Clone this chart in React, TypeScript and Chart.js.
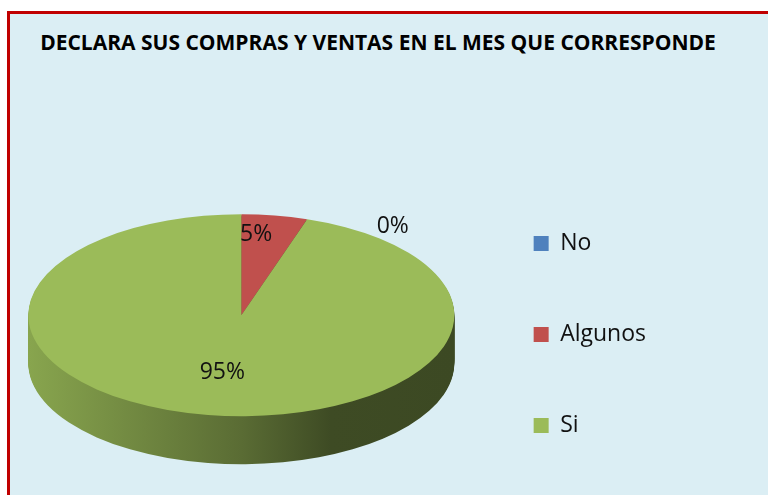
import React, { useEffect, useRef } from "react";
import { Chart, registerables } from "chart.js";

Chart.register(...registerables);

// ---- data ----
const TITLE = "DECLARA SUS COMPRAS Y VENTAS EN EL MES QUE CORRESPONDE";
const categories = ["No", "Algunos", "Si"];
const values = [0, 5, 95];

// ---- style ----
const sliceColors = ["#4F81BD", "#C0504D", "#9BBB59"];
const labelRadius = [1.13, 0.8, 0.57];
const labelAngleShift = [39, -4, 0]; // degrees
const PIE_RADIUS = 213;
const TILT = 101 / 213;
const DEPTH = 48;
const FONT = "'Open Sans', 'DejaVu Sans', sans-serif";

function shade(hex: string, f: number): string {
  const n = parseInt(hex.slice(1), 16);
  const r = Math.round(((n >> 16) & 255) * f);
  const g = Math.round(((n >> 8) & 255) * f);
  const b = Math.round((n & 255) * f);
  return `rgb(${r},${g},${b})`;
}

const pie3d = {
  id: "pie3d",
  beforeDatasetsDraw(chart: any) {
    const ctx = chart.ctx as CanvasRenderingContext2D;
    const arcs = chart.getDatasetMeta(0).data as any[];
    ctx.save();
    if (!arcs.length) return;
    const { x: cx, y: cy, outerRadius: r } = arcs[0].getProps(["x", "y", "outerRadius"], true);
    const grads = arcs.map((_a, i) => {
      const base = sliceColors[i];
      const g = ctx.createLinearGradient(cx - r, 0, cx + r, 0);
      g.addColorStop(0, shade(base, 0.88));
      g.addColorStop(0.5, shade(base, 0.58));
      g.addColorStop(0.71, shade(base, 0.4));
      g.addColorStop(1, shade(base, 0.39));
      return g;
    });
    for (let dy = DEPTH; dy >= 1; dy -= 1) {
      arcs.forEach((arc, i) => {
        const saved = arc.options;
        arc.options = Object.assign({}, saved, { backgroundColor: grads[i], borderWidth: 0 });
        ctx.save();
        ctx.translate(0, dy);
        ctx.translate(cx, cy);
        ctx.scale(1, TILT);
        ctx.translate(-cx, -cy);
        arc.draw(ctx);
        ctx.restore();
        arc.options = saved;
      });
    }
    ctx.translate(cx, cy);
    ctx.scale(1, TILT);
    ctx.translate(-cx, -cy);
  },
  afterDatasetsDraw(chart: any) {
    const ctx = chart.ctx as CanvasRenderingContext2D;
    ctx.restore();
    const arcs = chart.getDatasetMeta(0).data as any[];
    const data = chart.data.datasets[0].data as number[];
    const total = data.reduce((a, b) => a + b, 0);
    ctx.save();
    ctx.font = `23px ${FONT}`;
    ctx.fillStyle = "#111";
    ctx.textAlign = "center";
    ctx.textBaseline = "middle";
    arcs.forEach((arc, i) => {
      const p = arc.getProps(["x", "y", "startAngle", "endAngle", "outerRadius"], true);
      const a = (p.startAngle + p.endAngle) / 2 + (labelAngleShift[i] * Math.PI) / 180;
      const rr = p.outerRadius * labelRadius[i];
      const x = p.x + Math.cos(a) * rr;
      const y = p.y + Math.sin(a) * rr * TILT;
      ctx.fillText(Math.round((data[i] / total) * 100) + "%", x, y);
    });
    ctx.restore();
  },
};

export default function App() {
  const ref = useRef<HTMLCanvasElement | null>(null);
  useEffect(() => {
    if (!ref.current) return;
    const chart = new Chart(ref.current, {
      type: "pie",
      data: {
        labels: categories,
        datasets: [
          {
            data: values,
            backgroundColor: sliceColors,
            borderWidth: 0,
            radius: PIE_RADIUS,
            clip: false,
          } as any,
        ],
      },
      options: {
        responsive: false,
        animation: false,
        events: [],
        layout: { padding: { top: 111.5, left: 7, right: 112, bottom: 0 } },
        plugins: {
          title: { display: false },
          tooltip: { enabled: false },
          legend: {
            position: "right",
            align: "end",
            labels: {
              boxWidth: 15,
              boxHeight: 15,
              padding: 68,
              color: "#111",
              font: { family: FONT, size: 23 },
            },
          },
        },
      },
      plugins: [pie3d],
    });
    return () => chart.destroy();
  }, []);

  return (
    <div style={{ position: "fixed", left: 0, top: 0, width: 768, height: 495, overflow: "hidden", background: "#fff" }}>
      <div
        style={{
          position: "absolute",
          left: 7,
          top: 11,
          width: 900,
          height: 600,
          background: "#DBEEF4",
          borderLeft: "3px solid #C00000",
          borderTop: "3px solid #C00000",
        }}
      >
        <div
          style={{
            position: "absolute",
            left: 0,
            top: 16,
            width: 736,
            textAlign: "center",
            fontFamily: FONT,
            fontWeight: 700,
            fontSize: 21,
            lineHeight: "24px",
            color: "#000",
            whiteSpace: "nowrap",
          }}
        >
          {TITLE}
        </div>
        <canvas ref={ref} width={758} height={491} style={{ position: "absolute", left: 0, top: 0, width: 758, height: 491 }} />
      </div>
    </div>
  );
}
